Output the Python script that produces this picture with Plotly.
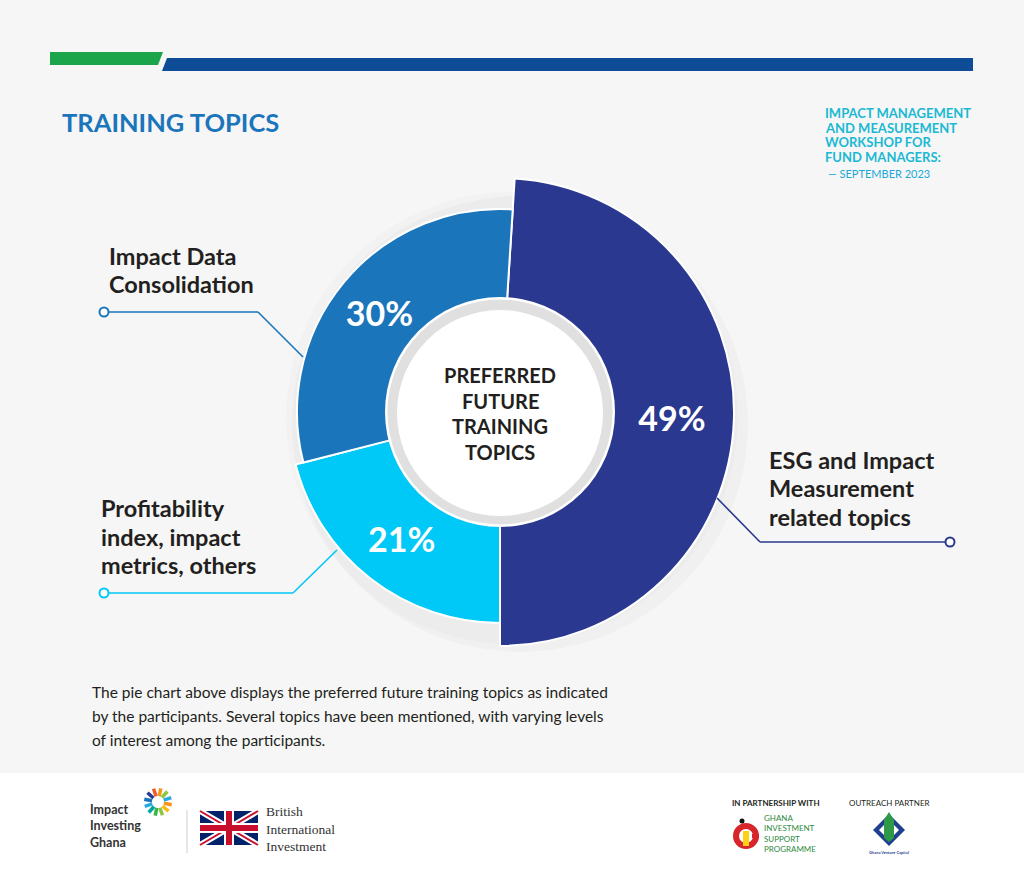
import math
import plotly.graph_objects as go

# ---------------- data ----------------
topics = ["ESG and Impact Measurement related topics",
          "Profitability index, impact metrics, others",
          "Impact Data Consolidation"]
shares = [49, 21, 30]
label_lines = [["ESG and Impact", "Measurement", "related topics"],
               ["Profitability", "index, impact", "metrics, others"],
               ["Impact Data", "Consolidation"]]
center_title = ["PREFERRED", "FUTURE", "TRAINING", "TOPICS"]
header_lines = ["IMPACT MANAGEMENT", "AND MEASUREMENT", "WORKSHOP FOR", "FUND MANAGERS:"]
header_date = "— SEPTEMBER 2023"
title_text = "TRAINING TOPICS"
body_lines = ["The pie chart above displays the preferred future training topics as indicated",
              "by the participants. Several topics have been mentioned, with varying levels",
              "of interest among the participants."]

# ---------------- style ----------------
W, H = 1024, 875
CX, CY = 500, 412
slice_colors = ["#2b388f", "#00c8f7", "#1b75bb"]
slice_radius = [234, 211, 203]
inner_r = 110
FONT = "Lato"
DARK = "#231f20"


def px(x):
    return x / W


def py(y):
    return 1 - y / H


fig = go.Figure()

for i in range(len(shares)):
    R = slice_radius[i]
    cols = [slice_colors[j] if j == i else "rgba(0,0,0,0)" for j in range(len(shares))]
    lw = [2 if j == i else 0 for j in range(len(shares))]
    tt = ["%{percent:.0%}" if j == i else "" for j in range(len(shares))]
    fig.add_trace(go.Pie(
        labels=topics, values=shares, sort=False, direction="clockwise",
        rotation=3.6, hole=inner_r / R,
        domain=dict(x=[px(CX - R), px(CX + R)], y=[py(CY + R), py(CY - R)]),
        marker=dict(colors=cols, line=dict(color="white", width=lw)),
        texttemplate=tt, textposition="inside", insidetextorientation="horizontal",
        textfont=dict(family=FONT, size=34, color="white", weight="bold"),
        hoverinfo="skip", showlegend=False,
    ))

shapes = []
shapes.append(dict(type="rect", xref="paper", yref="paper", x0=0, x1=1, y0=py(875), y1=py(0),
                   fillcolor="#f6f6f6", line_width=0, layer="below"))
shapes.append(dict(type="rect", xref="paper", yref="paper", x0=0, x1=1, y0=py(875), y1=py(773),
                   fillcolor="#ffffff", line_width=0, layer="below"))


def circ(cx, cy, r, fill, line_color=None, lwidth=0, layer="above"):
    return dict(type="circle", xref="paper", yref="paper",
                x0=px(cx - r), x1=px(cx + r), y0=py(cy + r), y1=py(cy - r),
                fillcolor=fill, line=dict(color=line_color or fill, width=lwidth), layer=layer)


# soft shadow behind donut
shapes.append(circ(520, 424, 228, "rgba(0,0,0,0.025)", lwidth=0, layer="below"))
shapes.append(circ(512, 418, 226, "rgba(0,0,0,0.015)", lwidth=0, layer="below"))


def path(points, fill):
    d = "M " + " L ".join(f"{px(x)},{py(y)}" for x, y in points) + " Z"
    return dict(type="path", xref="paper", yref="paper", path=d, fillcolor=fill, line_width=0)


shapes.append(path([(50, 52), (163, 52), (158, 65), (50, 65)], "#1aa54b"))
shapes.append(path([(167, 58), (973, 58), (973, 71), (162, 71)], "#0f4c97"))

# centre disc
shapes.append(circ(CX, CY, 115, "#ffffff"))
shapes.append(circ(CX, CY, 112.5, "#e0e0e0"))
shapes.append(circ(CX, CY + 1, 103, "#ffffff"))


def seg(x0, y0, x1, y1, color, w=1.6):
    return dict(type="line", xref="paper", yref="paper", x0=px(x0), y0=py(y0), x1=px(x1), y1=py(y1),
                line=dict(color=color, width=w))


conn = [
    [(717, 498), (760, 542), (946, 542)],
    [(337, 550), (293, 593), (108, 593)],
    [(303, 357), (258, 312), (108, 312)],
]
for i, pts in enumerate(conn):
    c = slice_colors[i]
    for a, b in zip(pts[:-1], pts[1:]):
        shapes.append(seg(a[0], a[1], b[0], b[1], c))
    ex, ey = pts[-1]
    ex = ex + 4 if i == 0 else ex - 4
    shapes.append(circ(ex, ey, 4.5, "#ffffff", c, 2))

# ---------- footer logos ----------
burst_cols = ["#f7941d", "#fdb913", "#8dc63f", "#39b54a", "#00a79d", "#27aae1",
              "#1c75bc", "#2b388f", "#f15a29", "#f7941d", "#8dc63f", "#27aae1"]
bx, by = 158, 802
for k in range(12):
    a = k * math.pi / 6 + 0.2
    shapes.append(seg(bx + 6 * math.cos(a), by + 6 * math.sin(a), bx + 14 * math.cos(a), by + 14 * math.sin(a),
                      burst_cols[k], 3.5))
shapes.append(seg(187, 810, 187, 853, "#cfcfcf", 1))
fx0, fy0, fx1, fy1 = 200, 811, 258, 845
shapes.append(dict(type="rect", xref="paper", yref="paper", x0=px(fx0), x1=px(fx1), y0=py(fy1), y1=py(fy0),
                   fillcolor="#012169", line_width=0))
shapes.append(seg(fx0, fy0, fx1, fy1, "white", 6))
shapes.append(seg(fx0, fy1, fx1, fy0, "white", 6))
shapes.append(seg(fx0, fy0, fx1, fy1, "#c8102e", 2))
shapes.append(seg(fx0, fy1, fx1, fy0, "#c8102e", 2))
shapes.append(seg(fx0, (fy0 + fy1) / 2, fx1, (fy0 + fy1) / 2, "white", 10))
shapes.append(seg((fx0 + fx1) / 2, fy0, (fx0 + fx1) / 2, fy1, "white", 10))
shapes.append(seg(fx0, (fy0 + fy1) / 2, fx1, (fy0 + fy1) / 2, "#c8102e", 6))
shapes.append(seg((fx0 + fx1) / 2, fy0, (fx0 + fx1) / 2, fy1, "#c8102e", 6))
# GISP logo
shapes.append(circ(746, 836, 10, "rgba(0,0,0,0)", "#d7262b", 6))
shapes.append(dict(type="rect", xref="paper", yref="paper", x0=px(743), x1=px(749), y0=py(846), y1=py(831),
                   fillcolor="#fcd116", line_width=0))
shapes.append(dict(type="rect", xref="paper", yref="paper", x0=px(752), x1=px(759), y0=py(838), y1=py(834),
                   fillcolor="#d7262b", line_width=0))
shapes.append(circ(742, 821, 2.5, "#111111"))
# Ghana Venture Capital logo
shapes.append(path([(889, 814), (905, 830), (889, 846), (873, 830)], "#1f3f8f"))
shapes.append(path([(889, 820), (899, 830), (889, 840), (879, 830)], "#ffffff"))
shapes.append(path([(889, 812), (894, 820), (894, 838), (889, 842), (884, 838), (884, 820)], "#2e9a47"))

ann = []


def text(x, y, s, size, color=DARK, bold=False, family=FONT, xanchor="left"):
    ann.append(dict(xref="paper", yref="paper", x=px(x), y=py(y), text=s, showarrow=False,
                    xanchor=xanchor, yanchor="middle", align="left",
                    font=dict(family=family, size=size, color=color, weight="bold" if bold else "normal")))


text(60, 122, title_text, 25.5, "#1b75bb", True)
hy = [113, 128, 142, 157]
for s, y in zip(header_lines, hy):
    text(823, y, s, 13, "#1bb9d3", True)
text(826, 173, header_date, 11, "#1aa9d8")

for k, s in enumerate(center_title):
    text(CX, 375 + k * 25.5, s, 20, DARK, True, xanchor="center")

label_pos = [(767, [460, 488, 517]), (99, [508, 537, 565]), (107, [256, 284])]
for (x, ys), lines in zip(label_pos, label_lines):
    for s, y in zip(lines, ys):
        text(x, y, s, 23.5, DARK, True)

for k, s in enumerate(body_lines):
    text(90, 692 + k * 24, s, 15.5, DARK)

text(88, 826, "Impact<br>Investing<br>Ghana", 12.5, "#333333", True)
text(264, 829, "British<br>International<br>Investment", 13.5, "#333333", False, "Liberation Serif")
text(776, 803, "IN PARTNERSHIP WITH", 8, DARK, True, xanchor="center")
text(889, 803, "OUTREACH PARTNER", 8, DARK, False, xanchor="center")
text(762, 833, "GHANA<br>INVESTMENT<br>SUPPORT<br>PROGRAMME", 8, "#2e8b3e", False)
text(889, 852, "Ghana Venture Capital", 4, "#1f3f8f", True, xanchor="center")

fig.update_layout(
    width=W, height=H, margin=dict(l=0, r=0, t=0, b=0),
    paper_bgcolor="#f6f6f6", plot_bgcolor="#f6f6f6",
    shapes=shapes, annotations=ann, showlegend=False,
)
fig.write_html("out.html", config=dict(displayModeBar=False),
               post_script="document.body.style.margin='0';document.body.style.overflow='hidden';")
